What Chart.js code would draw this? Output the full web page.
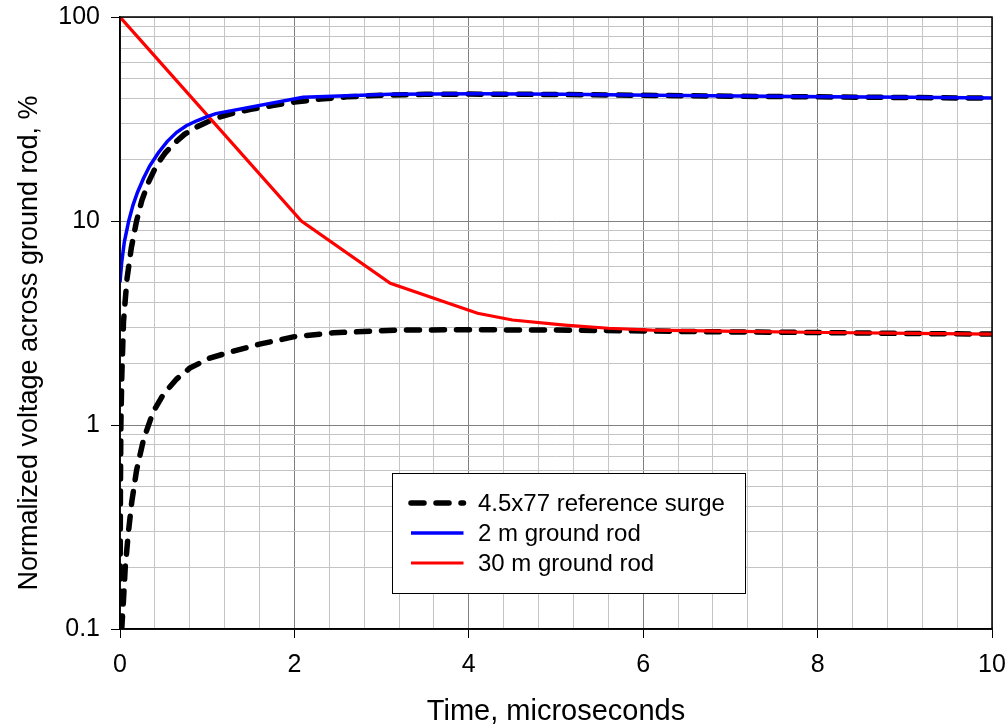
<!DOCTYPE html>
<html>
<head>
<meta charset="utf-8">
<script src="https://cdn.jsdelivr.net/npm/chart.js@4"></script>
<style>
  html, body { margin: 0; padding: 0; background: #fff; }
</style>
</head>
<body>
<canvas id="rod-chart" width="1007" height="728"></canvas>
<script>
const FONT = "'Liberation Sans', Arial, sans-serif";

// 4.5x77 reference surge, upper trace (scaled to 2 m rod peak)
const surgeHighT = [0, 0.005, 0.01, 0.02, 0.04, 0.08, 0.13, 0.19, 0.25, 0.33, 0.42, 0.52, 0.62, 0.74, 0.86, 1.0, 1.15, 1.3, 1.5, 1.75, 2.0, 2.3, 2.6, 3.0, 3.5, 4.0, 5.0, 6.0, 7.0, 8.0, 9.0, 10.0];
const surgeHighV = [0.1, 0.5, 1.0, 1.7, 3.2, 5.2, 7.4, 10.0, 12.6, 15.6, 18.8, 21.6, 24.0, 26.6, 28.6, 30.6, 32.4, 33.8, 35.3, 36.8, 38.3, 39.6, 40.6, 41.4, 41.8, 41.9, 41.7, 41.3, 40.9, 40.6, 40.3, 40.0];

// 4.5x77 reference surge, lower trace (scaled to 30 m rod level)
const surgeLowT = [0.02, 0.04, 0.06, 0.095, 0.135, 0.19, 0.27, 0.38, 0.5, 0.65, 0.8, 1.03, 1.3, 1.6, 2.0, 2.45, 3.17, 4.0, 5.0, 6.0, 7.0, 8.0, 9.0, 10.0];
const surgeLowV = [0.1, 0.139, 0.2, 0.294, 0.42, 0.6, 0.85, 1.16, 1.42, 1.68, 1.9, 2.13, 2.3, 2.49, 2.71, 2.83, 2.92, 2.93, 2.92, 2.89, 2.86, 2.84, 2.81, 2.79];

// 2 m ground rod
const rod2T = [0, 0.02, 0.05, 0.1, 0.15, 0.2, 0.27, 0.34, 0.44, 0.54, 0.65, 0.76, 0.88, 1.0, 1.1, 2.1, 3.1, 4.1, 5.1, 6.1, 7.1, 8.1, 9.1, 10.0];
const rod2V = [5.0, 6.3, 7.9, 10.0, 12.0, 13.8, 16.2, 18.6, 21.6, 24.5, 27.2, 29.3, 31.0, 32.5, 33.6, 40.4, 41.8, 42.0, 41.8, 41.4, 41.0, 40.7, 40.4, 40.1];

// 30 m ground rod
const rod30T = [0, 2.08, 3.1, 4.1, 4.5, 5.1, 5.6, 6.1, 7.1, 8.1, 9.1, 10.0];
const rod30V = [100, 10.0, 4.95, 3.53, 3.27, 3.09, 2.98, 2.92, 2.88, 2.84, 2.81, 2.79];

// grid / tick positions
const xTicks = [0, 0.4, 0.8, 1.2, 1.6, 2, 2.4, 2.8, 3.2, 3.6, 4, 4.4, 4.8, 5.2, 5.6, 6, 6.4, 6.8, 7.2, 7.6, 8, 8.4, 8.8, 9.2, 9.6, 10];
const yTicks = [0.1, 0.2, 0.3, 0.4, 0.5, 0.6, 0.7, 0.8, 0.9, 1, 2, 3, 4, 5, 6, 7, 8, 9, 10, 20, 30, 40, 50, 60, 70, 80, 90, 100];

const yTitle = 'Normalized voltage across ground rod, %';

const toPoints = (ts, vs) => ts.map((t, i) => ({x: t, y: vs[i]}));
const isMajorX = (v) => Math.abs(v / 2 - Math.round(v / 2)) < 1e-6;
const isMajorY = (v) => Math.abs(Math.log10(v) - Math.round(Math.log10(v))) < 1e-6;

const DASH = [13, 12];

// box border, y title and inset legend
const frameLegend = {
  id: 'frameLegend',
  afterDraw(chart) {
    const {ctx, chartArea: a} = chart;
    ctx.save();
    ctx.strokeStyle = '#000';
    ctx.lineWidth = 1.5;
    ctx.strokeRect(a.left, a.top, a.right - a.left, a.bottom - a.top);

    // y axis title (Excel centres it a bit lower than the plot middle)
    ctx.save();
    ctx.translate(30, 343);
    ctx.rotate(-Math.PI / 2);
    ctx.font = `27px ${FONT}`;
    ctx.fillStyle = '#000';
    ctx.textAlign = 'center';
    ctx.textBaseline = 'middle';
    ctx.fillText(yTitle, 0, 0);
    ctx.restore();

    const box = {x: 392.5, y: 473.5, w: 353, h: 120};
    ctx.fillStyle = '#fff';
    ctx.fillRect(box.x, box.y, box.w, box.h);
    ctx.lineWidth = 1;
    ctx.strokeRect(box.x, box.y, box.w, box.h);

    const seen = new Set();
    const items = chart.data.datasets.filter((ds) => {
      if (seen.has(ds.label)) return false;
      seen.add(ds.label);
      return true;
    });
    ctx.font = `24px ${FONT}`;
    ctx.textBaseline = 'middle';
    ctx.textAlign = 'left';
    items.forEach((ds, i) => {
      const y = 503 + i * 30;
      ctx.beginPath();
      ctx.strokeStyle = ds.borderColor;
      ctx.lineWidth = ds.borderWidth;
      ctx.lineCap = ds.borderCapStyle || 'butt';
      ctx.setLineDash(ds.borderDash || []);
      ctx.moveTo(411, y);
      ctx.lineTo(463.5, y);
      ctx.stroke();
      ctx.setLineDash([]);
      ctx.fillStyle = '#000';
      ctx.fillText(ds.label, 478, y + 1);
    });
    ctx.restore();
  }
};

const ctx = document.querySelector('#rod-chart').getContext('2d');

new Chart(ctx, {
  type: 'scatter',
  data: {
    datasets: [
      {
        label: '4.5x77 reference surge',
        data: toPoints(surgeHighT, surgeHighV),
        borderColor: '#000',
        borderWidth: 5.5,
        borderDash: DASH,
        borderCapStyle: 'round',
        order: 3,
      },
      {
        label: '2 m ground rod',
        data: toPoints(rod2T, rod2V),
        borderColor: '#0000ff',
        borderWidth: 3.5,
        order: 1,
      },
      {
        label: '30 m ground rod',
        data: toPoints(rod30T, rod30V),
        borderColor: '#ff0000',
        borderWidth: 3.2,
        order: 1,
      },
      {
        label: '4.5x77 reference surge',
        data: toPoints(surgeLowT, surgeLowV),
        borderColor: '#000',
        borderWidth: 5.5,
        borderDash: DASH,
        borderCapStyle: 'round',
        order: 3,
      },
    ].map((ds) => ({...ds, showLine: true, pointRadius: 0, pointHoverRadius: 0, tension: 0, fill: false})),
  },
  options: {
    responsive: false,
    animation: false,
    devicePixelRatio: 1,
    layout: {
      padding: {left: 0, top: 17, right: 15, bottom: 0},
    },
    scales: {
      x: {
        type: 'linear',
        min: 0,
        max: 10,
        afterBuildTicks: (scale) => {
          scale.ticks = xTicks.map((v) => ({value: v}));
        },
        afterFit: (scale) => {
          scale.height = 99;
          scale.paddingLeft = 0;
          scale.paddingRight = 0;
        },
        ticks: {
          autoSkip: false,
          maxRotation: 0,
          padding: 12,
          color: '#000',
          font: {family: FONT, size: 25},
          callback: (v) => (isMajorX(v) ? String(Math.round(v)) : ''),
        },
        grid: {
          color: (c) => (isMajorX(c.tick.value) ? '#808080' : '#c4c4c4'),
          tickColor: (c) => (isMajorX(c.tick.value) ? '#000' : 'rgba(0,0,0,0)'),
          tickLength: 9,
          lineWidth: 1,
        },
        border: {
          color: '#000',
          width: 1.5,
        },
        title: {
          display: true,
          text: 'Time, microseconds',
          color: '#000',
          font: {family: FONT, size: 29, lineHeight: 1},
          padding: {top: 0, bottom: 2},
        },
      },
      y: {
        type: 'logarithmic',
        min: 0.1,
        max: 100,
        afterBuildTicks: (scale) => {
          scale.ticks = yTicks.map((v) => ({value: v}));
        },
        afterFit: (scale) => {
          scale.width = 120;
          scale.paddingTop = 0;
          scale.paddingBottom = 0;
        },
        ticks: {
          autoSkip: false,
          padding: 11,
          color: '#000',
          font: {family: FONT, size: 25},
          callback: (v) => (isMajorY(v) ? String(v) : ''),
        },
        grid: {
          color: (c) => (isMajorY(c.tick.value) ? '#808080' : '#c4c4c4'),
          tickColor: (c) => (isMajorY(c.tick.value) ? '#000' : 'rgba(0,0,0,0)'),
          tickLength: 9,
          lineWidth: 1,
        },
        border: {
          color: '#000',
          width: 1.5,
        },
      },
    },
    plugins: {
      legend: {display: false},
      tooltip: {enabled: false},
    },
  },
  plugins: [frameLegend],
});
</script>
</body>
</html>
